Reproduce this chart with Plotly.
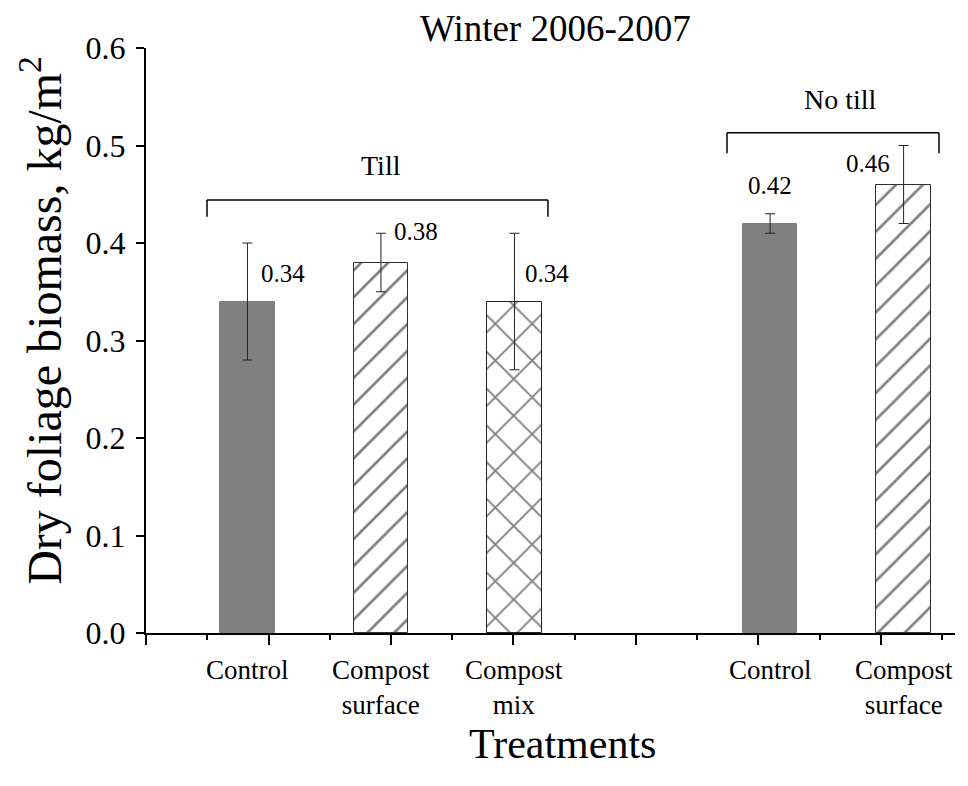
import plotly.graph_objects as go

# ---- data ----
groups = ["Till", "Till", "Till", "No till", "No till"]
categories = ["Control", "Compost<br>surface", "Compost<br>mix", "Control", "Compost<br>surface"]
biomass = [0.34, 0.38, 0.34, 0.42, 0.46]
err = [0.06, 0.03, 0.07, 0.01, 0.04]
value_labels = ["0.34", "0.38", "0.34", "0.42", "0.46"]
y_ticks = [0.0, 0.1, 0.2, 0.3, 0.4, 0.5, 0.6]

# ---- layout helpers (slot units) ----
group_gap = 0.915
xpos = []
for i, g in enumerate(groups):
    xpos.append(i + (group_gap if g == "No till" else 0.0))

patterns = ["", "/", "x", "", "/"]
pat_size = [20, 19, 26, 20, 19]
fills = ["#808080", "white", "white", "#808080", "white"]
lines = ["#808080", "#303030", "#202020", "#808080", "#303030"]
label_shift = [(36, 28), (35, 31), (33, 28), (0, 38), (-36, 21)]

FONT = '"Liberation Serif", "Times New Roman", serif'

fig = go.Figure()
for i in range(len(biomass)):
    fig.add_trace(go.Bar(
        x=[xpos[i]], y=[biomass[i]], width=0.41,
        marker=dict(color=fills[i], line=dict(color=lines[i], width=1),
                    pattern=dict(shape=patterns[i], fgcolor="black", bgcolor=fills[i],
                                 size=pat_size[i], solidity=0.14)),
        error_y=dict(type="data", array=[err[i]], visible=True, color="#222222",
                     thickness=1, width=5),
        showlegend=False, hoverinfo="skip"))

# value labels
for i in range(len(biomass)):
    dx, dy = label_shift[i]
    fig.add_annotation(x=xpos[i], y=biomass[i], text=value_labels[i], showarrow=False,
                       xshift=dx, yshift=dy, font=dict(family=FONT, size=25, color="black"))

# category labels
for i in range(len(categories)):
    fig.add_annotation(x=xpos[i], y=0, text=categories[i], showarrow=False,
                       yanchor="top", yshift=-20, align="center",
                       font=dict(family=FONT, size=27, color="black"))

# group brackets
brackets = [("Till", -0.303, 2.251, 0.444, 0.427, 1.0, 0.48),
            ("No till", 3.592, 5.18, 0.513, 0.492, 4.44, 0.547)]
for name, x0, x1, ytop, yend, tx, ty in brackets:
    fig.add_shape(type="line", x0=x0, x1=x1, y0=ytop, y1=ytop, line=dict(color="black", width=1.5))
    fig.add_shape(type="line", x0=x0, x1=x0, y0=ytop, y1=yend, line=dict(color="black", width=1.5))
    fig.add_shape(type="line", x0=x1, x1=x1, y0=ytop, y1=yend, line=dict(color="black", width=1.5))
    fig.add_annotation(x=tx, y=ty, text=name, showarrow=False,
                       font=dict(family=FONT, size=28, color="black"))

# axis titles
fig.add_annotation(xref="paper", yref="paper", x=0.515, y=-0.19, text="Treatments",
                   showarrow=False, yanchor="middle",
                   font=dict(family=FONT, size=42, color="black"))
fig.add_annotation(xref="paper", yref="paper", x=-0.13, y=0.535,
                   text="Dry foliage biomass, kg/m<sup>2</sup>", textangle=-90,
                   showarrow=False, xanchor="center", yanchor="middle",
                   font=dict(family=FONT, size=48, color="black"))

fig.update_layout(
    width=968, height=786,
    margin=dict(l=138, r=21, t=40, b=161, autoexpand=False),
    paper_bgcolor="white", plot_bgcolor="white",
    bargap=0,
    title=dict(text="Winter 2006-2007", x=0.506, xref="paper", xanchor="center",
               y=1 - 20 / 786, yref="container", yanchor="middle",
               font=dict(family=FONT, size=37, color="black")),
    xaxis=dict(range=[-0.760, 5.30], showgrid=False, zeroline=False, automargin=False,
               showline=True, linecolor="black", linewidth=2,
               tickmode="linear", tick0=-0.760, dtick=0.9176,
               ticks="outside", ticklen=10, tickwidth=2, tickcolor="black",
               showticklabels=False,
               minor=dict(tickmode="linear", tick0=-0.760, dtick=0.4588,
                          ticks="outside", ticklen=5, tickwidth=2, tickcolor="black")),
    yaxis=dict(range=[0, 0.6], showgrid=False, zeroline=False, automargin=False,
               showline=True, linecolor="black", linewidth=2,
               tickmode="array", tickvals=y_ticks, tickformat=".1f",
               ticks="outside", ticklen=8, tickwidth=2, tickcolor="black",
               ticklabelstandoff=4,
               tickfont=dict(family=FONT, size=32, color="black")),
)

fig.write_html("out.html")
